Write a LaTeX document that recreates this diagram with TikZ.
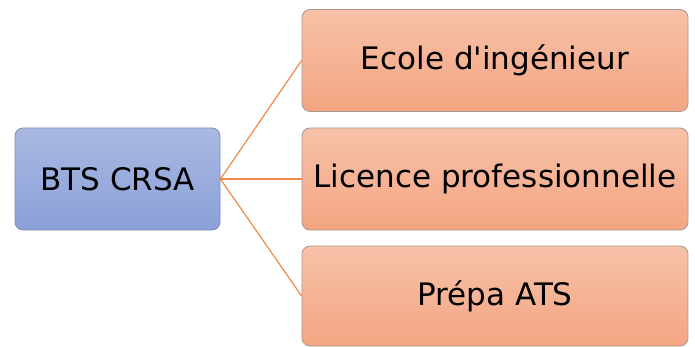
\documentclass[tikz,border=0pt]{standalone}
\usepackage{fontspec}
% family without TeX ligatures so the apostrophe stays straight
\newfontfamily\boxfont{DejaVu Sans}
\definecolor{blueTop}{HTML}{AAB9E2}
\definecolor{blueBot}{HTML}{8AA0D8}
\definecolor{blueEdge}{HTML}{7F8FB8}
\definecolor{orTop}{HTML}{F7C1A8}
\definecolor{orBot}{HTML}{F4A582}
\definecolor{orEdge}{HTML}{A89890}
\definecolor{link}{HTML}{EE8A45}
\begin{document}
\begin{tikzpicture}[x=1pt,y=-1pt,
  basebox/.style={rounded corners=8pt, minimum height=102pt, inner sep=0pt,
    font=\boxfont\fontsize{31}{36}\selectfont, text=black, line width=0.8pt},
  srcbox/.style={basebox, top color=blueTop, bottom color=blueBot, draw=blueEdge, minimum width=205pt},
  dstbox/.style={basebox, top color=orTop, bottom color=orBot, draw=orEdge, minimum width=386pt},
  linkline/.style={draw=link, line width=1.2pt}]
\useasboundingbox (0,0) rectangle (695,347);
\node[srcbox] (bts) at (117.5,179) {BTS CRSA};
\node[dstbox] (ecole) at (495,60.5) {Ecole d'ingénieur};
\node[dstbox] (lic) at (495,179) {Licence professionnelle};
\node[dstbox, minimum height=100pt] (prepa) at (495,296) {Prépa ATS};
\draw[linkline] (bts.east) -- (ecole.west);
\draw[linkline] (bts.east) -- (lic.west);
\draw[linkline] (bts.east) -- (prepa.west);
\end{tikzpicture}
\end{document}
